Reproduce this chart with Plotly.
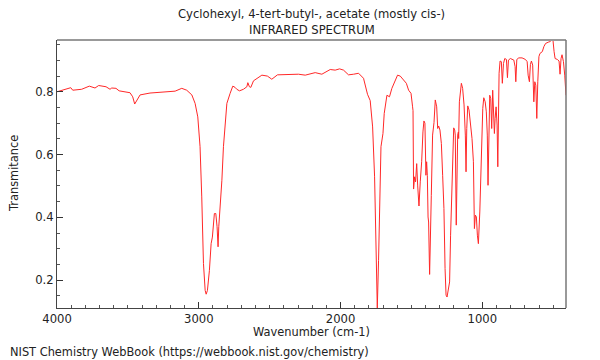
import plotly.graph_objects as go

wavenumber = [4000, 3950, 3903, 3889, 3826, 3772, 3732, 3706, 3654, 3626, 3614, 3584, 3562, 3485, 3466, 3452, 3437, 3414, 3344, 3226, 3167, 3120, 3085, 3049, 3026, 3007, 2996, 2991, 2979, 2967, 2955, 2948, 2939, 2925, 2913, 2904, 2890, 2880, 2871, 2864, 2859, 2849, 2837, 2826, 2814, 2802, 2779, 2760, 2744, 2732, 2713, 2685, 2661, 2654, 2643, 2633, 2614, 2555, 2516, 2485, 2445, 2355, 2297, 2249, 2179, 2132, 2073, 2038, 2007, 1979, 1944, 1908, 1873, 1838, 1810, 1791, 1774, 1760, 1748, 1741, 1732, 1725, 1715, 1701, 1692, 1673, 1655, 1638, 1614, 1598, 1579, 1556, 1536, 1520, 1503, 1492, 1489, 1485, 1478, 1471, 1463, 1456, 1447, 1438, 1428, 1419, 1412, 1405, 1400, 1398, 1393, 1388, 1383, 1379, 1372, 1367, 1360, 1351, 1341, 1332, 1322, 1315, 1308, 1299, 1289, 1280, 1271, 1263, 1256, 1249, 1240, 1231, 1224, 1216, 1209, 1202, 1195, 1191, 1184, 1179, 1174, 1169, 1167, 1162, 1157, 1148, 1139, 1129, 1120, 1115, 1110, 1103, 1094, 1082, 1073, 1063, 1056, 1049, 1042, 1035, 1028, 1018, 1011, 1004, 997, 990, 980, 972, 965, 960, 953, 948, 941, 934, 927, 920, 915, 910, 903, 896, 891, 887, 882, 875, 866, 859, 851, 842, 830, 823, 816, 802, 778, 769, 764, 757, 743, 720, 696, 684, 677, 668, 661, 654, 645, 637, 630, 623, 616, 609, 601, 594, 577, 566, 554, 535, 523, 511, 502, 494, 487, 471, 459, 452, 445, 438, 428, 419, 410]

transmittance = [0.800, 0.806, 0.813, 0.805, 0.808, 0.818, 0.812, 0.820, 0.816, 0.808, 0.812, 0.811, 0.803, 0.797, 0.784, 0.761, 0.773, 0.790, 0.796, 0.801, 0.802, 0.811, 0.805, 0.790, 0.763, 0.720, 0.646, 0.625, 0.465, 0.253, 0.167, 0.155, 0.167, 0.231, 0.316, 0.337, 0.412, 0.412, 0.370, 0.306, 0.370, 0.433, 0.518, 0.625, 0.710, 0.763, 0.795, 0.818, 0.814, 0.808, 0.803, 0.808, 0.816, 0.829, 0.816, 0.814, 0.835, 0.853, 0.850, 0.840, 0.854, 0.854, 0.856, 0.853, 0.861, 0.856, 0.871, 0.869, 0.873, 0.869, 0.854, 0.856, 0.859, 0.843, 0.792, 0.772, 0.688, 0.529, 0.263, 0.111, 0.263, 0.476, 0.625, 0.667, 0.731, 0.789, 0.784, 0.811, 0.837, 0.853, 0.850, 0.837, 0.827, 0.805, 0.795, 0.752, 0.740, 0.490, 0.529, 0.513, 0.571, 0.500, 0.436, 0.513, 0.577, 0.672, 0.707, 0.700, 0.630, 0.534, 0.577, 0.534, 0.401, 0.385, 0.218, 0.300, 0.470, 0.662, 0.702, 0.774, 0.752, 0.683, 0.691, 0.678, 0.635, 0.534, 0.428, 0.237, 0.152, 0.146, 0.167, 0.194, 0.343, 0.492, 0.630, 0.685, 0.678, 0.662, 0.375, 0.556, 0.662, 0.672, 0.651, 0.768, 0.795, 0.827, 0.811, 0.758, 0.662, 0.545, 0.683, 0.755, 0.742, 0.694, 0.651, 0.577, 0.364, 0.407, 0.401, 0.343, 0.316, 0.417, 0.534, 0.694, 0.747, 0.781, 0.768, 0.736, 0.662, 0.502, 0.694, 0.789, 0.779, 0.683, 0.805, 0.747, 0.667, 0.715, 0.752, 0.694, 0.561, 0.694, 0.859, 0.898, 0.896, 0.827, 0.890, 0.906, 0.903, 0.845, 0.901, 0.906, 0.901, 0.880, 0.832, 0.903, 0.908, 0.908, 0.903, 0.896, 0.853, 0.832, 0.887, 0.898, 0.885, 0.768, 0.832, 0.821, 0.715, 0.832, 0.912, 0.922, 0.928, 0.944, 0.954, 0.958, 0.960, 0.965, 0.965, 0.928, 0.906, 0.903, 0.898, 0.856, 0.906, 0.918, 0.896, 0.853, 0.789]

x_ticks = [4000, 3000, 2000, 1000]
y_ticks = [0.2, 0.4, 0.6, 0.8]

title_line1 = "Cyclohexyl, 4-tert-butyl-, acetate (mostly cis-)"
title_line2 = "INFRARED SPECTRUM"
x_title = "Wavenumber (cm-1)"
y_title = "Transmitance"
credit = "NIST Chemistry WebBook (https://webbook.nist.gov/chemistry)"

FONT = "DejaVu Sans"
TXT = "#222222"
FS = 11.4

fig = go.Figure()
fig.add_trace(go.Scatter(x=wavenumber, y=transmittance, mode="lines",
                         line=dict(color="rgb(255,40,40)", width=1),
                         hoverinfo="skip", showlegend=False))

# The page body adds an 8px offset, so the figure is 8px smaller and margins shifted.
fig.update_layout(
    width=592, height=352,
    margin=dict(l=49, r=34, t=32, b=52),
    paper_bgcolor="white", plot_bgcolor="white",
    font=dict(family=FONT, size=FS, color=TXT),
    showlegend=False,
    xaxis=dict(range=[4000, 410], tickvals=x_ticks, ticktext=[str(v) for v in x_ticks],
               ticks="inside", ticklen=6, tickcolor="#333", tickwidth=1,
               minor=dict(dtick=100, tick0=0, ticks="inside", ticklen=3, tickcolor="#555"),
               showgrid=False, zeroline=False, showline=True, linecolor="#444", linewidth=1,
               tickfont=dict(size=11.6, color=TXT)),
    yaxis=dict(range=[0.111, 0.965], tickvals=y_ticks, ticktext=[f"{v:.1f}" for v in y_ticks],
               ticks="inside", ticklen=6, tickcolor="#333", tickwidth=1,
               minor=dict(dtick=0.05, tick0=0, ticks="inside", ticklen=3, tickcolor="#555"),
               showgrid=False, zeroline=False, showline=True, linecolor="#444", linewidth=1,
               tickfont=dict(size=11.6, color=TXT)),
    shapes=[
        dict(type="line", xref="paper", yref="paper", x0=0, x1=1, y0=1, y1=1,
             line=dict(color="#999999", width=2)),
        dict(type="line", xref="paper", yref="paper", x0=1, x1=1, y0=0, y1=1,
             line=dict(color="#777777", width=1.5)),
    ],
    annotations=[
        dict(text=title_line1, xref="paper", yref="paper", x=0.5, y=1, yshift=26,
             xanchor="center", yanchor="middle", showarrow=False, font=dict(size=11.6)),
        dict(text=title_line2, xref="paper", yref="paper", x=0.5, y=1, yshift=10,
             xanchor="center", yanchor="middle", showarrow=False, font=dict(size=11.6)),
        dict(text=x_title, xref="paper", yref="paper", x=0.5, y=0, yshift=-24,
             xanchor="center", yanchor="middle", showarrow=False, font=dict(size=FS)),
        dict(text=y_title, xref="paper", yref="paper", x=0, xshift=-43, y=0.5,
             xanchor="center", yanchor="middle", textangle=-90, showarrow=False, font=dict(size=FS)),
        dict(text=credit, xref="paper", yref="paper", x=0, xshift=-49, y=0, yshift=-44,
             xanchor="left", yanchor="middle", showarrow=False, font=dict(size=FS)),
    ],
)

fig.write_html("out.html")
